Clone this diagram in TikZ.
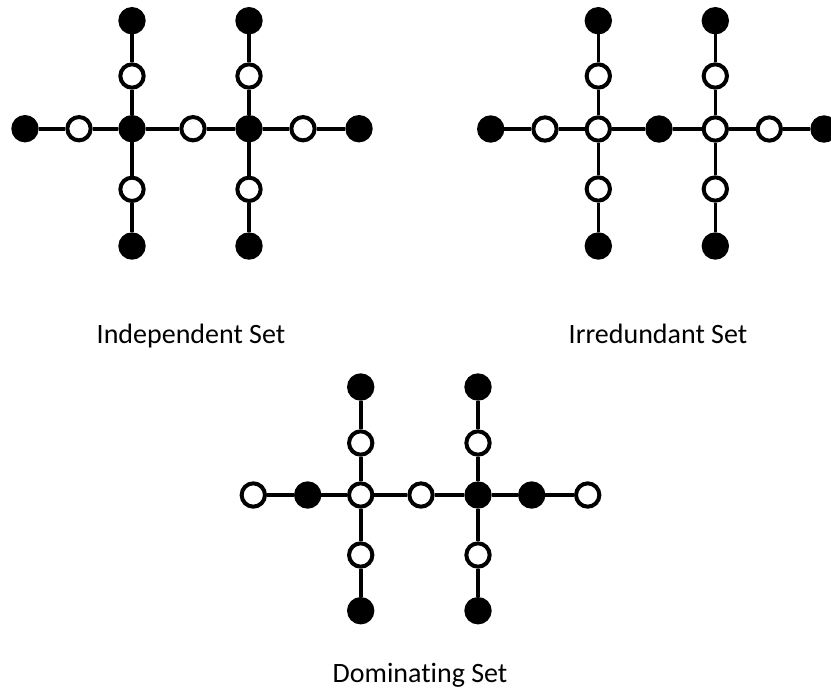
\documentclass[tikz,border=0pt]{standalone}
\usepackage{fontspec}
\setmainfont{Carlito}[Ligatures=NoCommon]
\begin{document}
\begin{tikzpicture}[x=0.75pt,y=-0.75pt,
  vtx/.style={circle,draw=black,line width=3pt,minimum size=17.5pt,inner sep=0pt},
  inset/.style={vtx,fill=black},
  outset/.style={vtx,fill=white},
  edge/.style={line width=2.7pt},
  caption/.style={anchor=base,font=\fontsize{21}{25}\selectfont}]
\useasboundingbox (0,0) rectangle (831,693);

% ---------- Independent set ----------
\foreach \i/\x/\s in {1/25/inset,2/79/outset,3/132/inset,4/193/outset,5/249/inset,6/303/outset,7/359/inset}
  \node[\s] (a\i) at (\x,128.7) {};
\foreach \c/\x in {3/132,5/249}{
  \node[inset]  (a\c t) at (\x,20.7) {};
  \node[outset] (a\c u) at (\x,76) {};
  \node[outset] (a\c l) at (\x,189.3) {};
  \node[inset]  (a\c b) at (\x,246) {};
}
\foreach \p/\q in {a1/a2,a2/a3,a3/a4,a4/a5,a5/a6,a6/a7,
                   a3t/a3u,a3u/a3,a3/a3l,a3l/a3b,a5t/a5u,a5u/a5,a5/a5l,a5l/a5b}
  \draw[edge] (\p) -- (\q);
\node[caption] (capA) at (191,343) {Independent Set};

% ---------- Irredundant set ----------
\foreach \i/\x/\s in {1/490.7/inset,2/545/outset,3/598.3/outset,4/659/inset,5/715.3/outset,6/769.3/outset,7/824/inset}
  \node[\s] (b\i) at (\x,129) {};
\foreach \c/\x in {3/598.3,5/715.3}{
  \node[inset]  (b\c t) at (\x,20.7) {};
  \node[outset] (b\c u) at (\x,76) {};
  \node[outset] (b\c l) at (\x,189) {};
  \node[inset]  (b\c b) at (\x,246) {};
}
\foreach \p/\q in {b1/b2,b2/b3,b3/b4,b4/b5,b5/b6,b6/b7,
                   b3t/b3u,b3u/b3,b3/b3l,b3l/b3b,b5t/b5u,b5u/b5,b5/b5l,b5l/b5b}
  \draw[edge] (\p) -- (\q);
\node[caption] (capB) at (658,343) {Irredundant Set};

% ---------- Dominating set ----------
\foreach \i/\x/\s in {1/253.3/outset,2/307.7/inset,3/360.7/outset,4/421/outset,5/478/inset,6/531.7/inset,7/587.7/outset}
  \node[\s] (c\i) at (\x,495) {};
\foreach \c/\x in {3/360.7,5/478}{
  \node[inset]  (c\c t) at (\x,387) {};
  \node[outset] (c\c u) at (\x,443) {};
  \node[outset] (c\c l) at (\x,555) {};
  \node[inset]  (c\c b) at (\x,610.7) {};
}
\foreach \p/\q in {c1/c2,c2/c3,c3/c4,c4/c5,c5/c6,c6/c7,
                   c3t/c3u,c3u/c3,c3/c3l,c3l/c3b,c5t/c5u,c5u/c5,c5/c5l,c5l/c5b}
  \draw[edge] (\p) -- (\q);
\node[caption] (capC) at (420,682) {Dominating Set};
\end{tikzpicture}
\end{document}
